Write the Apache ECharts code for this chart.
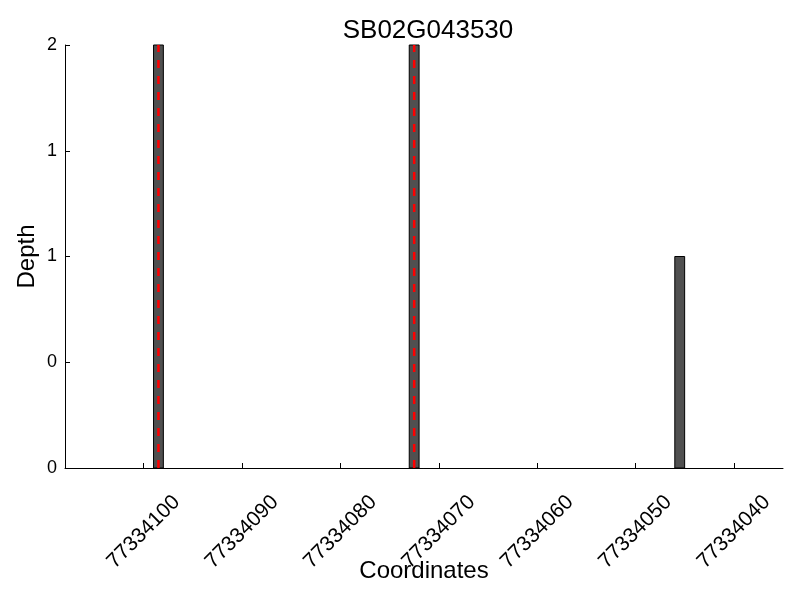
<!DOCTYPE html>
<html>
<head>
<meta charset="utf-8">
<script src="https://cdn.jsdelivr.net/npm/echarts@6/dist/echarts.min.js"></script>
<style>html,body{margin:0;padding:0;background:#fff}#c{width:800px;height:600px}</style>
</head>
<body>
<div id="c"></div>
<script>
// Data
const titleText = 'SB02G043530';
const barStarts = [77334098, 77334072, 77334045];   // bar left coordinate (1 bp wide)
const barDepths = [2, 2, 1];
const markerPositions = [77334098.5, 77334072.5];    // red dashed lines
const xTickValues = [77334100, 77334090, 77334080, 77334070, 77334060, 77334050, 77334040];
const yTickValues = [0, 0.5, 1, 1.5, 2];
const yTickLabels = ['0', '0', '1', '1', '2'];
const xMin = 77334035, xMax = 77334108;

const FONT = 'Liberation Sans, Arial, sans-serif';
const chart = echarts.init(document.getElementById('c'), null, {renderer: 'canvas'});

const barData = barStarts.map((s, i) => [s, s + 1, barDepths[i]]);
const lineData = markerPositions.map(p => [p, 0, 2]);

chart.setOption({
  animation: false,
  backgroundColor: '#fff',
  title: {
    text: titleText, left: 423, top: 13, textAlign: 'center',
    textStyle: {fontFamily: FONT, fontSize: 26, fontWeight: 'normal', color: '#000'}
  },
  grid: {left: 65, right: 17, top: 45, bottom: 132, containLabel: false, outerBoundsMode: 'none'},
  xAxis: {
    type: 'value', inverse: true, min: xMin, max: xMax,
    name: 'Coordinates', nameLocation: 'middle', nameGap: 103, nameMoveOverlap: false,
    nameTextStyle: {fontFamily: FONT, fontSize: 24, color: '#000', verticalAlign: 'middle'},
    axisLine: {show: true, onZero: false, lineStyle: {color: '#000', width: 1}},
    axisTick: {show: true, inside: true, length: 5, customValues: xTickValues, lineStyle: {color: '#000'}},
    axisLabel: {
      customValues: xTickValues, rotate: 45, align: 'center', verticalAlign: 'middle', margin: 64,
      fontFamily: FONT, fontSize: 21, color: '#000',
      formatter: v => String(v)
    },
    splitLine: {show: false}
  },
  yAxis: {
    type: 'value', min: 0, max: 2, interval: 0.5,
    name: 'Depth', nameLocation: 'middle', nameGap: 38, nameMoveOverlap: false,
    nameTextStyle: {fontFamily: FONT, fontSize: 24, color: '#000', verticalAlign: 'middle'},
    axisLine: {show: true, lineStyle: {color: '#000', width: 1}},
    axisTick: {show: true, inside: true, length: 5, lineStyle: {color: '#000'}},
    axisLabel: {
      margin: 8, fontFamily: FONT, fontSize: 18, color: '#000',
      formatter: v => yTickLabels[yTickValues.indexOf(v)] ?? ''
    },
    splitLine: {show: false}
  },
  series: [
    {
      type: 'custom',
      data: barData,
      encode: {x: [0, 1], y: 2},
      renderItem: (params, api) => {
        const p0 = api.coord([api.value(0), 0]);
        const p1 = api.coord([api.value(1), api.value(2)]);
        const x = Math.min(p0[0], p1[0]);
        const w = Math.abs(p1[0] - p0[0]);
        return {
          type: 'rect',
          shape: {x: x, y: p1[1], width: w, height: p0[1] - p1[1]},
          style: {fill: '#505050', stroke: '#000', lineWidth: 1}
        };
      },
      z: 2
    },
    {
      type: 'custom',
      data: lineData,
      encode: {x: 0, y: [1, 2]},
      renderItem: (params, api) => {
        const a = api.coord([api.value(0), api.value(1)]);
        const b = api.coord([api.value(0), api.value(2)]);
        return {
          type: 'line',
          shape: {x1: a[0], y1: a[1], x2: b[0], y2: b[1]},
          style: {stroke: '#ff0000', lineWidth: 2.5, lineDash: [8, 8]}
        };
      },
      z: 3
    }
  ]
});
</script>
</body>
</html>
